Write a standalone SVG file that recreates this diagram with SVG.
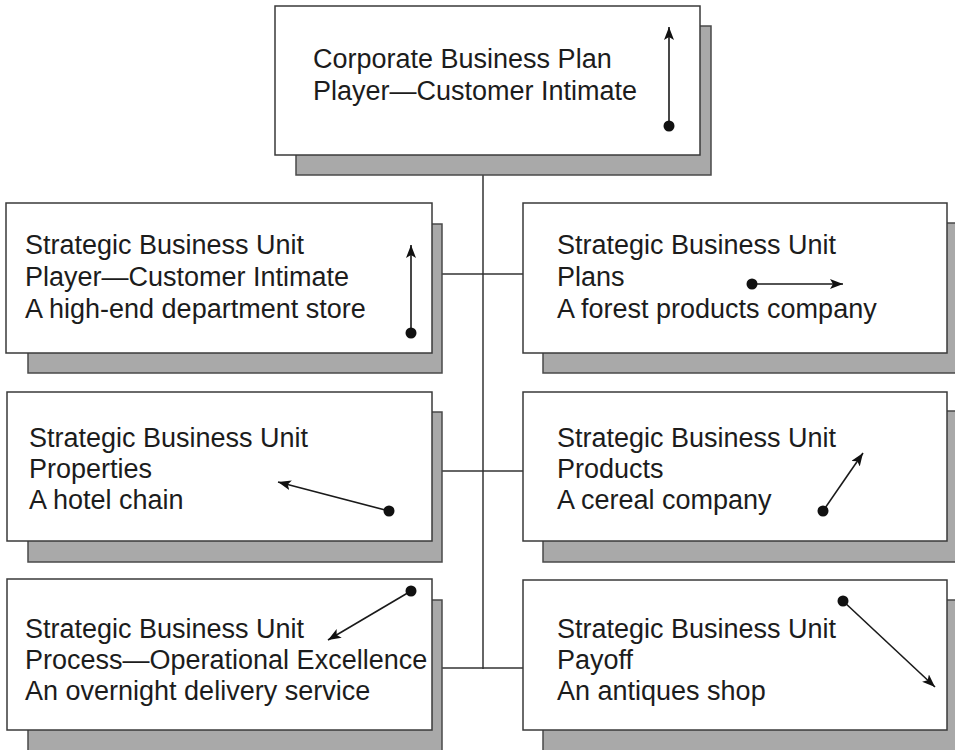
<svg xmlns="http://www.w3.org/2000/svg" width="955" height="750" viewBox="0 0 955 750">
<style>
.box{fill:#ffffff;stroke:#3a3a3a;stroke-width:1.5}
.shadow{fill:#a9a9a9;stroke:#4a4a4a;stroke-width:1.5}
.conn{fill:none;stroke:#333333;stroke-width:1.5}
.arr{fill:none;stroke:#1a1a1a;stroke-width:1.6;marker-end:url(#head)}
.dot{fill:#111111}
text{font-family:"Liberation Sans",Arial,sans-serif;font-size:27px;fill:#1c1c1c}
</style>
<defs>
<marker id="head" markerUnits="userSpaceOnUse" markerWidth="14" markerHeight="12" refX="13" refY="5" orient="auto">
<path d="M0,0 L13,5 L0,10 L3,5 z" fill="#111111"/>
</marker>
</defs>
<rect width="955" height="750" fill="#ffffff"/>
<g id="connectors">
<line class="conn" x1="483" y1="155" x2="483" y2="669"/>
<line class="conn" x1="432" y1="274" x2="523" y2="274"/>
<line class="conn" x1="432" y1="471" x2="523" y2="471"/>
<line class="conn" x1="432" y1="668" x2="523" y2="668"/>
</g>
<g id="corporate">
<rect class="shadow" x="296" y="26" width="415" height="149"/>
<rect class="box" x="275" y="6" width="425" height="149"/>
<text x="313" y="68">Corporate Business Plan</text>
<text x="313" y="100">Player—Customer Intimate</text>
<line class="arr" x1="669" y1="126" x2="669" y2="27"/>
<circle class="dot" cx="669" cy="126" r="5.5"/>
</g>
<g id="sbu-player">
<rect class="shadow" x="28" y="224" width="414" height="149"/>
<rect class="box" x="6" y="203" width="426" height="150"/>
<text x="25" y="254">Strategic Business Unit</text>
<text x="25" y="286">Player—Customer Intimate</text>
<text x="25" y="318">A high-end department store</text>
<line class="arr" x1="411" y1="333" x2="411" y2="245"/>
<circle class="dot" cx="411" cy="333" r="5.5"/>
</g>
<g id="sbu-plans">
<rect class="shadow" x="543" y="223" width="416" height="150"/>
<rect class="box" x="523" y="203" width="424" height="150"/>
<text x="557" y="254">Strategic Business Unit</text>
<text x="557" y="286">Plans</text>
<text x="557" y="318">A forest products company</text>
<line class="arr" x1="752" y1="284" x2="843" y2="284"/>
<circle class="dot" cx="752" cy="284" r="5.5"/>
</g>
<g id="sbu-properties">
<rect class="shadow" x="28" y="412" width="414" height="150"/>
<rect class="box" x="7" y="392" width="425" height="149"/>
<text x="29" y="447">Strategic Business Unit</text>
<text x="29" y="478">Properties</text>
<text x="29" y="509">A hotel chain</text>
<line class="arr" x1="389" y1="511" x2="278" y2="482"/>
<circle class="dot" cx="389" cy="511" r="5.5"/>
</g>
<g id="sbu-products">
<rect class="shadow" x="543" y="411" width="416" height="151"/>
<rect class="box" x="523" y="392" width="424" height="149"/>
<text x="557" y="447">Strategic Business Unit</text>
<text x="557" y="478">Products</text>
<text x="557" y="509">A cereal company</text>
<line class="arr" x1="823" y1="511" x2="863" y2="453"/>
<circle class="dot" cx="823" cy="511" r="5.5"/>
</g>
<g id="sbu-process">
<rect class="shadow" x="28" y="600" width="414" height="152"/>
<rect class="box" x="7" y="579" width="425" height="151"/>
<text x="25" y="638">Strategic Business Unit</text>
<text x="25" y="669">Process—Operational Excellence</text>
<text x="25" y="700">An overnight delivery service</text>
<line class="arr" x1="411" y1="591" x2="328" y2="640"/>
<circle class="dot" cx="411" cy="591" r="5.5"/>
</g>
<g id="sbu-payoff">
<rect class="shadow" x="543" y="600" width="416" height="152"/>
<rect class="box" x="523" y="580" width="424" height="150"/>
<text x="557" y="638">Strategic Business Unit</text>
<text x="557" y="669">Payoff</text>
<text x="557" y="700">An antiques shop</text>
<line class="arr" x1="843" y1="601" x2="935" y2="687"/>
<circle class="dot" cx="843" cy="601" r="5.5"/>
</g>
</svg>
